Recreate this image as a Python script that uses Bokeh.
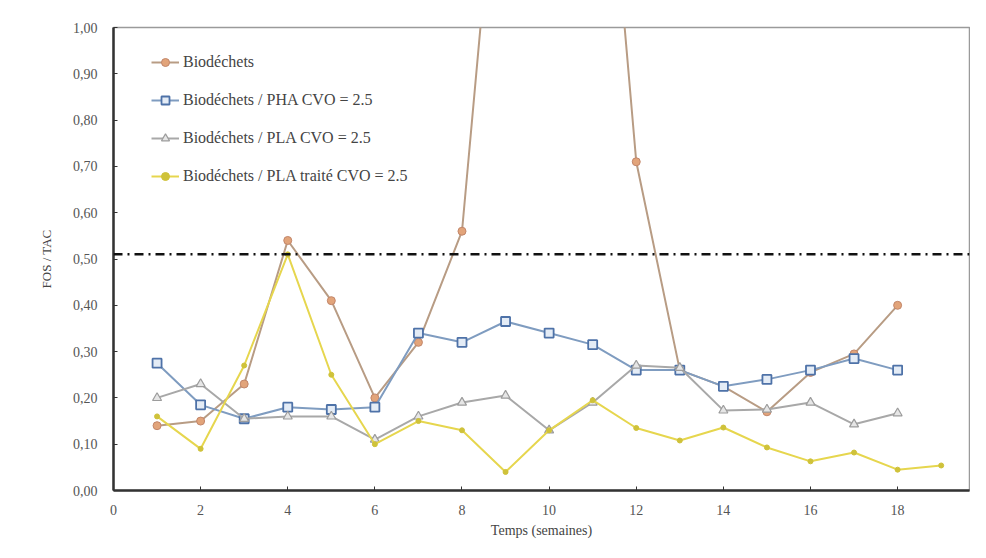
from bokeh.plotting import figure
from bokeh.models import ColumnDataSource, Span, Legend, LegendItem, CustomJSTickFormatter, FixedTicker, Range1d
from bokeh.embed import file_html
from bokeh.resources import INLINE

# Data
weeks = list(range(1, 19))
bio = [0.14, 0.15, 0.23, 0.54, 0.41, 0.20, 0.32, 0.56, 1.60, 2.00, 1.80, 0.71, 0.26, 0.225, 0.17, 0.255, 0.295, 0.40]
pha = [0.275, 0.185, 0.155, 0.18, 0.175, 0.18, 0.34, 0.32, 0.365, 0.34, 0.315, 0.26, 0.26, 0.225, 0.24, 0.26, 0.285, 0.26]
pla = [0.20, 0.23, 0.155, 0.16, 0.16, 0.11, 0.16, 0.19, 0.205, 0.13, 0.19, 0.27, 0.265, 0.173, 0.175, 0.19, 0.143, 0.167]
weeks_t = list(range(1, 20))
pla_t = [0.16, 0.09, 0.27, 0.51, 0.25, 0.10, 0.15, 0.13, 0.04, 0.13, 0.195, 0.135, 0.108, 0.136, 0.093, 0.063, 0.082, 0.045, 0.054]
threshold = 0.51

labels = ["Biodéchets", "Biodéchets / PHA CVO = 2.5", "Biodéchets / PLA CVO = 2.5", "Biodéchets / PLA traité CVO = 2.5"]
x_ticks = list(range(0, 21, 2))
y_ticks = [i / 10 for i in range(0, 11)]

FONT = "Liberation Serif"

p = figure(width=970, height=542, output_backend="svg", toolbar_location=None,
           x_range=Range1d(0, 19.65), y_range=Range1d(0, 1))
p.min_border_left = 113
p.min_border_top = 27
p.min_border_right = 1
p.min_border_bottom = 52
p.background_fill_color = "white"
p.border_fill_color = "white"
p.outline_line_color = "#9a9a9a"
p.outline_line_width = 1.5
p.xgrid.visible = False
p.ygrid.visible = False

for ax in (p.xaxis[0], p.yaxis[0]):
    ax.axis_line_color = "#333333"
    ax.axis_line_width = 2.5
    ax.major_tick_in = 4
    ax.major_tick_out = 0
    ax.minor_tick_line_color = None
    ax.major_tick_line_color = "#333333"
    ax.major_label_text_font = FONT
    ax.major_label_text_font_size = "14px"
    ax.major_label_text_color = "#555555"
    ax.axis_label_text_font = FONT
    ax.axis_label_text_font_size = "14px"
    ax.axis_label_text_font_style = "normal"
    ax.axis_label_text_color = "#444444"

p.xaxis.ticker = FixedTicker(ticks=x_ticks)
p.yaxis.ticker = FixedTicker(ticks=y_ticks)
p.yaxis.formatter = CustomJSTickFormatter(code="return tick.toFixed(2).replace('.', ',');")
p.xaxis.major_label_standoff = 14
p.yaxis.major_label_standoff = 16
p.xaxis.axis_label = "Temps (semaines)"
p.yaxis.axis_label = "FOS / TAC"
p.yaxis.axis_label_text_font_size = "13px"
p.xaxis.axis_label_standoff = 5
p.yaxis.axis_label_standoff = 16

span = Span(location=threshold, dimension="width", line_color="#111111",
            line_width=2.5, line_dash="9 5 2 5")
p.add_layout(span)

src_b = ColumnDataSource(dict(x=weeks, y=bio))
src_h = ColumnDataSource(dict(x=weeks, y=pha))
src_l = ColumnDataSource(dict(x=weeks, y=pla))
src_t = ColumnDataSource(dict(x=weeks_t, y=pla_t))

l1 = p.line("x", "y", source=src_b, line_color="#B89C84", line_width=2)
m1 = p.scatter("x", "y", source=src_b, marker="circle", size=8, fill_color="#E2A47A", line_color="#C2866A")
l2 = p.line("x", "y", source=src_h, line_color="#7F9CC0", line_width=2)
m2 = p.scatter("x", "y", source=src_h, marker="square", size=9, fill_color="#E4ECF6", line_color="#4E72A8", line_width=1.8)
l3 = p.line("x", "y", source=src_l, line_color="#A8A8A8", line_width=2)
m3 = p.scatter("x", "y", source=src_l, marker="triangle", size=9, fill_color="#E6E6E6", line_color="#9C9C9C", line_width=1.2)
l4 = p.line("x", "y", source=src_t, line_color="#E6D64E", line_width=2)
m4 = p.scatter("x", "y", source=src_t, marker="circle", size=5, fill_color="#CFC23A", line_color="#CFC23A")

legend = Legend(items=[
    LegendItem(label=labels[0], renderers=[l1, m1]),
    LegendItem(label=labels[1], renderers=[l2, m2]),
    LegendItem(label=labels[2], renderers=[l3, m3]),
    LegendItem(label=labels[3], renderers=[l4, m4]),
], location=(38, 304))
legend.border_line_color = None
legend.background_fill_alpha = 0
legend.label_text_font = FONT
legend.label_text_font_size = "16px"
legend.label_text_color = "#444444"
legend.spacing = 18
legend.glyph_width = 28
legend.label_standoff = 4
legend.padding = 4
p.add_layout(legend)

open("out.html", "w").write(file_html(p, INLINE))
